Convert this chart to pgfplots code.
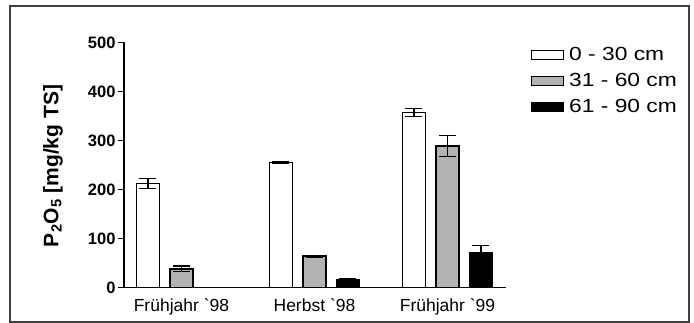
\documentclass[border=0pt]{standalone}
\usepackage{pgfplots}
\pgfplotsset{compat=1.18}
\usepackage{fontspec}
\setmainfont{Liberation Sans}
\newfontfamily\legfont{Liberation Sans}[FakeStretch=1.2]
\begin{document}
\begin{tikzpicture}[x=1pt,y=1pt]
\useasboundingbox (0,0) rectangle (694,323);
\draw[line width=1.3pt, black!75] (10,1) rectangle (689,317);
\begin{axis}[
  at={(124pt,35.5pt)}, anchor=south west,
  scale only axis, width=382pt, height=245pt,
  ybar=10.5pt, bar width=23pt,
  xmin=-0.432, xmax=2.44, ymin=0, ymax=500,
  axis x line=bottom, axis y line=left,
  axis line style={-, line width=1.3pt},
  xtick=data, xticklabels={Frühjahr \textasciigrave98, Herbst \textasciigrave98, Frühjahr \textasciigrave99},
  x tick label style={font=\fontsize{17.5}{19}\selectfont, yshift=-2pt},
  xtick style={draw=none},
  ytick={0,100,200,300,400,500},
  y tick label style={font=\fontsize{16.5}{18}\selectfont\bfseries, xshift=1pt},
  /pgf/number format/assume math mode=true,
  ytick style={line width=1.3pt, black},
  tick align=outside, major tick length=6pt,
  legend style={draw=none, fill=none, at={(1.065,0.98)}, anchor=north west,
    font=\legfont\fontsize{19}{21}\selectfont, row sep=11pt, inner sep=0pt,
    nodes={inner xsep=2pt, inner ysep=0pt}},
  legend cell align=left,
]
\addplot[draw=black, line width=1.3pt, fill=white,
  legend image code/.code={\draw[black, line width=1pt, fill=white] (0pt,-4.5pt) rectangle (32pt,4.5pt); \path (35pt,0pt);},
  error bars/.cd, y dir=both, y explicit, error bar style={line width=1.2pt, black},
  error mark options={rotate=90, mark size=8.5pt, line width=1.2pt, black}]
  coordinates {(0,212) +- (0,10) (1,255) +- (0,1.5) (2,357) +- (0,8)};
\addplot[draw=black, line width=1.3pt, fill=black!30,
  legend image code/.code={\draw[black, line width=1pt, fill=black!30] (0pt,-4.5pt) rectangle (32pt,4.5pt); \path (35pt,0pt);},
  error bars/.cd, y dir=both, y explicit, error bar style={line width=1.2pt, black},
  error mark options={rotate=90, mark size=8.5pt, line width=1.2pt, black}]
  coordinates {(0,38) +- (0,6) (1,64) +- (0,2) (2,289) +- (0,21)};
\addplot[draw=black, line width=1.3pt, fill=black,
  legend image code/.code={\draw[black, line width=1pt, fill=black] (0pt,-4.5pt) rectangle (32pt,4.5pt); \path (35pt,0pt);},
  error bars/.cd, y dir=both, y explicit, error bar style={line width=1.2pt, black},
  error mark options={rotate=90, mark size=8.5pt, line width=1.2pt, black}]
  coordinates {(1,17) +- (0,1) (2,71) +- (0,14)};
\legend{0 - 30 cm, 31 - 60 cm, 61 - 90 cm}
\end{axis}
\node[rotate=90, font=\fontsize{21}{23}\selectfont\bfseries] at (53,157) {P\textsubscript{2}O\textsubscript{5} [mg/kg TS]};
\end{tikzpicture}
\end{document}
